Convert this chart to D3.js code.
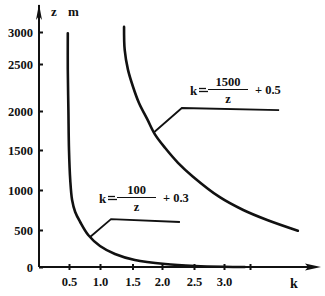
<!DOCTYPE html>
<html>
<head>
<meta charset="utf-8">
<script src="https://cdn.jsdelivr.net/npm/d3@7"></script>
<style>
  body { margin: 0; background: #fff; }
  svg text { font-family: "Liberation Serif", "Times New Roman", serif; font-weight: bold; fill: #111; }
</style>
</head>
<body>
<div id="chart"></div>
<script>
// tick values (the original axes are hand drawn, not evenly spaced)
var kTicks = [0.5, 1.0, 1.5, 2.0, 2.5, 3.0, 3.5];
var kTickLabels = ["0.5", "1.0", "1.5", "2.0", "2.5", "3.0", ""];
var zTicks = [0, 500, 1000, 1500, 2000, 2500, 3000];

// curve k = 100/z + 0.3 as drawn
var curveA_k = [0.48, 0.48, 0.49, 0.50, 0.52, 0.55, 0.60, 0.68, 0.81, 1.00, 1.23, 1.54, 2.05, 2.52, 3.0, 3.4];
var curveA_z = [2980, 2440, 2010, 1500, 1125, 875, 725, 600, 432, 284, 176, 95, 40, 14, 3, 0];

// curve k = 1500/z + 0.5 as drawn
var curveB_k = [1.37, 1.38, 1.43, 1.51, 1.61, 1.75, 1.88, 2.05, 2.25, 2.48, 2.93, 3.37, 3.83, 4.42];
var curveB_z = [3080, 2720, 2440, 2255, 2085, 1895, 1700, 1525, 1340, 1170, 910, 750, 625, 490];

// leader lines (k, z): start on curve, elbow, end
var leaderA_k = [0.84, 1.17, 2.28];
var leaderA_z = [405, 637, 600];
var leaderB_k = [1.86, 2.31, 4.06];
var leaderB_z = [1725, 2032, 2010];

var width = 325, height = 296;

var svg = d3.select("#chart")
  .append("svg")
  .attr("width", width)
  .attr("height", height);

// piecewise scales follow the uneven tick spacing of the original drawing
var x = d3.scaleLinear()
  .domain([0, 0.5, 1.0, 1.5, 2.0, 2.5, 3.0, 3.5])
  .range([39, 69, 100, 132.5, 162, 194, 224, 250]);

var y = d3.scaleLinear()
  .domain(zTicks)
  .range([267, 230, 190, 150, 111, 64, 32]);

// y axis
svg.append("line")
  .attr("x1", x(0)).attr("y1", y(0))
  .attr("x2", x(0)).attr("y2", 5)
  .attr("stroke", "#111").attr("stroke-width", 2);
svg.append("path")
  .attr("d", "M" + x(0) + ",4 L" + (x(0) + 3) + ",20 L" + x(0) + ",16 L" + (x(0) - 3) + ",20 Z")
  .attr("fill", "#111");

var yAxis = svg.append("g")
  .attr("transform", "translate(" + x(0) + ",0)")
  .call(d3.axisLeft(y).tickValues(zTicks).tickFormat(d3.format("d"))
    .tickSizeInner(-4).tickSizeOuter(0).tickPadding(6));
yAxis.select(".domain").remove();
yAxis.selectAll(".tick line").attr("stroke", "#111").attr("stroke-width", 2);
yAxis.selectAll("text")
  .style("font-size", "12.5px")
  .style("font-family", "'Liberation Serif', serif")
  .style("font-weight", "bold");

// x axis
svg.append("line")
  .attr("x1", x(0)).attr("y1", y(0))
  .attr("x2", 310).attr("y2", y(0))
  .attr("stroke", "#111").attr("stroke-width", 2);
svg.append("path")
  .attr("d", "M321," + y(0) + " L305," + (y(0) - 3.5) + " L308," + y(0) + " L305," + (y(0) + 3.5) + " Z")
  .attr("fill", "#111");

var xAxis = svg.append("g")
  .attr("transform", "translate(0," + y(0) + ")")
  .call(d3.axisBottom(x).tickValues(kTicks)
    .tickFormat(function(d, i) { return kTickLabels[i]; })
    .tickSizeInner(3).tickSizeOuter(0).tickPadding(7));
xAxis.select(".domain").remove();
xAxis.selectAll(".tick line")
  .attr("y1", -3)
  .attr("stroke", "#111").attr("stroke-width", 2);
xAxis.selectAll("text")
  .style("font-size", "12.5px")
  .style("font-family", "'Liberation Serif', serif")
  .style("font-weight", "bold");

// axis names
svg.append("text").attr("x", 51).attr("y", 16).style("font-size", "13px").text("z");
svg.append("text").attr("x", 68).attr("y", 16).style("font-size", "13px").text("m");
svg.append("text").attr("x", 290).attr("y", 288).style("font-size", "14px").text("k");

// curves
var line = d3.line()
  .x(function(d) { return x(d[0]); })
  .y(function(d) { return y(d[1]); })
  .curve(d3.curveCatmullRom.alpha(0.5));

svg.append("path")
  .datum(d3.zip(curveA_k, curveA_z))
  .attr("d", line)
  .attr("fill", "none")
  .attr("stroke", "#111")
  .attr("stroke-width", 2.6)
  .attr("stroke-linecap", "round");

svg.append("path")
  .datum(d3.zip(curveB_k, curveB_z))
  .attr("d", line)
  .attr("fill", "none")
  .attr("stroke", "#111")
  .attr("stroke-width", 2.6)
  .attr("stroke-linecap", "round");

// leaders
var straight = d3.line()
  .x(function(d) { return x(d[0]); })
  .y(function(d) { return y(d[1]); });

[d3.zip(leaderA_k, leaderA_z), d3.zip(leaderB_k, leaderB_z)].forEach(function(pts) {
  svg.append("path")
    .datum(pts)
    .attr("d", straight)
    .attr("fill", "none")
    .attr("stroke", "#111")
    .attr("stroke-width", 1.8);
});

// formula labels
function formula(g, num, addend, w) {
  g.append("text").attr("x", 0).attr("y", 0).style("font-size", "13px").text("k");
  g.append("line").attr("x1", 9).attr("y1", -3.5).attr("x2", 18).attr("y2", -3.5)
    .attr("stroke", "#111").attr("stroke-width", 1.3);
  g.append("line").attr("x1", 9).attr("y1", -6.5).attr("x2", 16).attr("y2", -6.5)
    .attr("stroke", "#111").attr("stroke-width", 1.3);
  g.append("line").attr("x1", 18).attr("y1", -5.5).attr("x2", 18 + w).attr("y2", -5.5)
    .attr("stroke", "#111").attr("stroke-width", 1.2);
  g.append("text").attr("x", 18 + w / 2).attr("y", -9).attr("text-anchor", "middle")
    .style("font-size", "12.5px").text(num);
  g.append("text").attr("x", 18 + w / 2).attr("y", 8).attr("text-anchor", "middle")
    .style("font-size", "12.5px").text("z");
  g.append("text").attr("x", 18 + w + 7).attr("y", -1)
    .style("font-size", "12.5px").text("+ 0." + addend);
}

formula(svg.append("g").attr("transform", "translate(190,95)"), "1500", "5", 40);
formula(svg.append("g").attr("transform", "translate(99,203)"), "100", "3", 39);
</script>
</body>
</html>
